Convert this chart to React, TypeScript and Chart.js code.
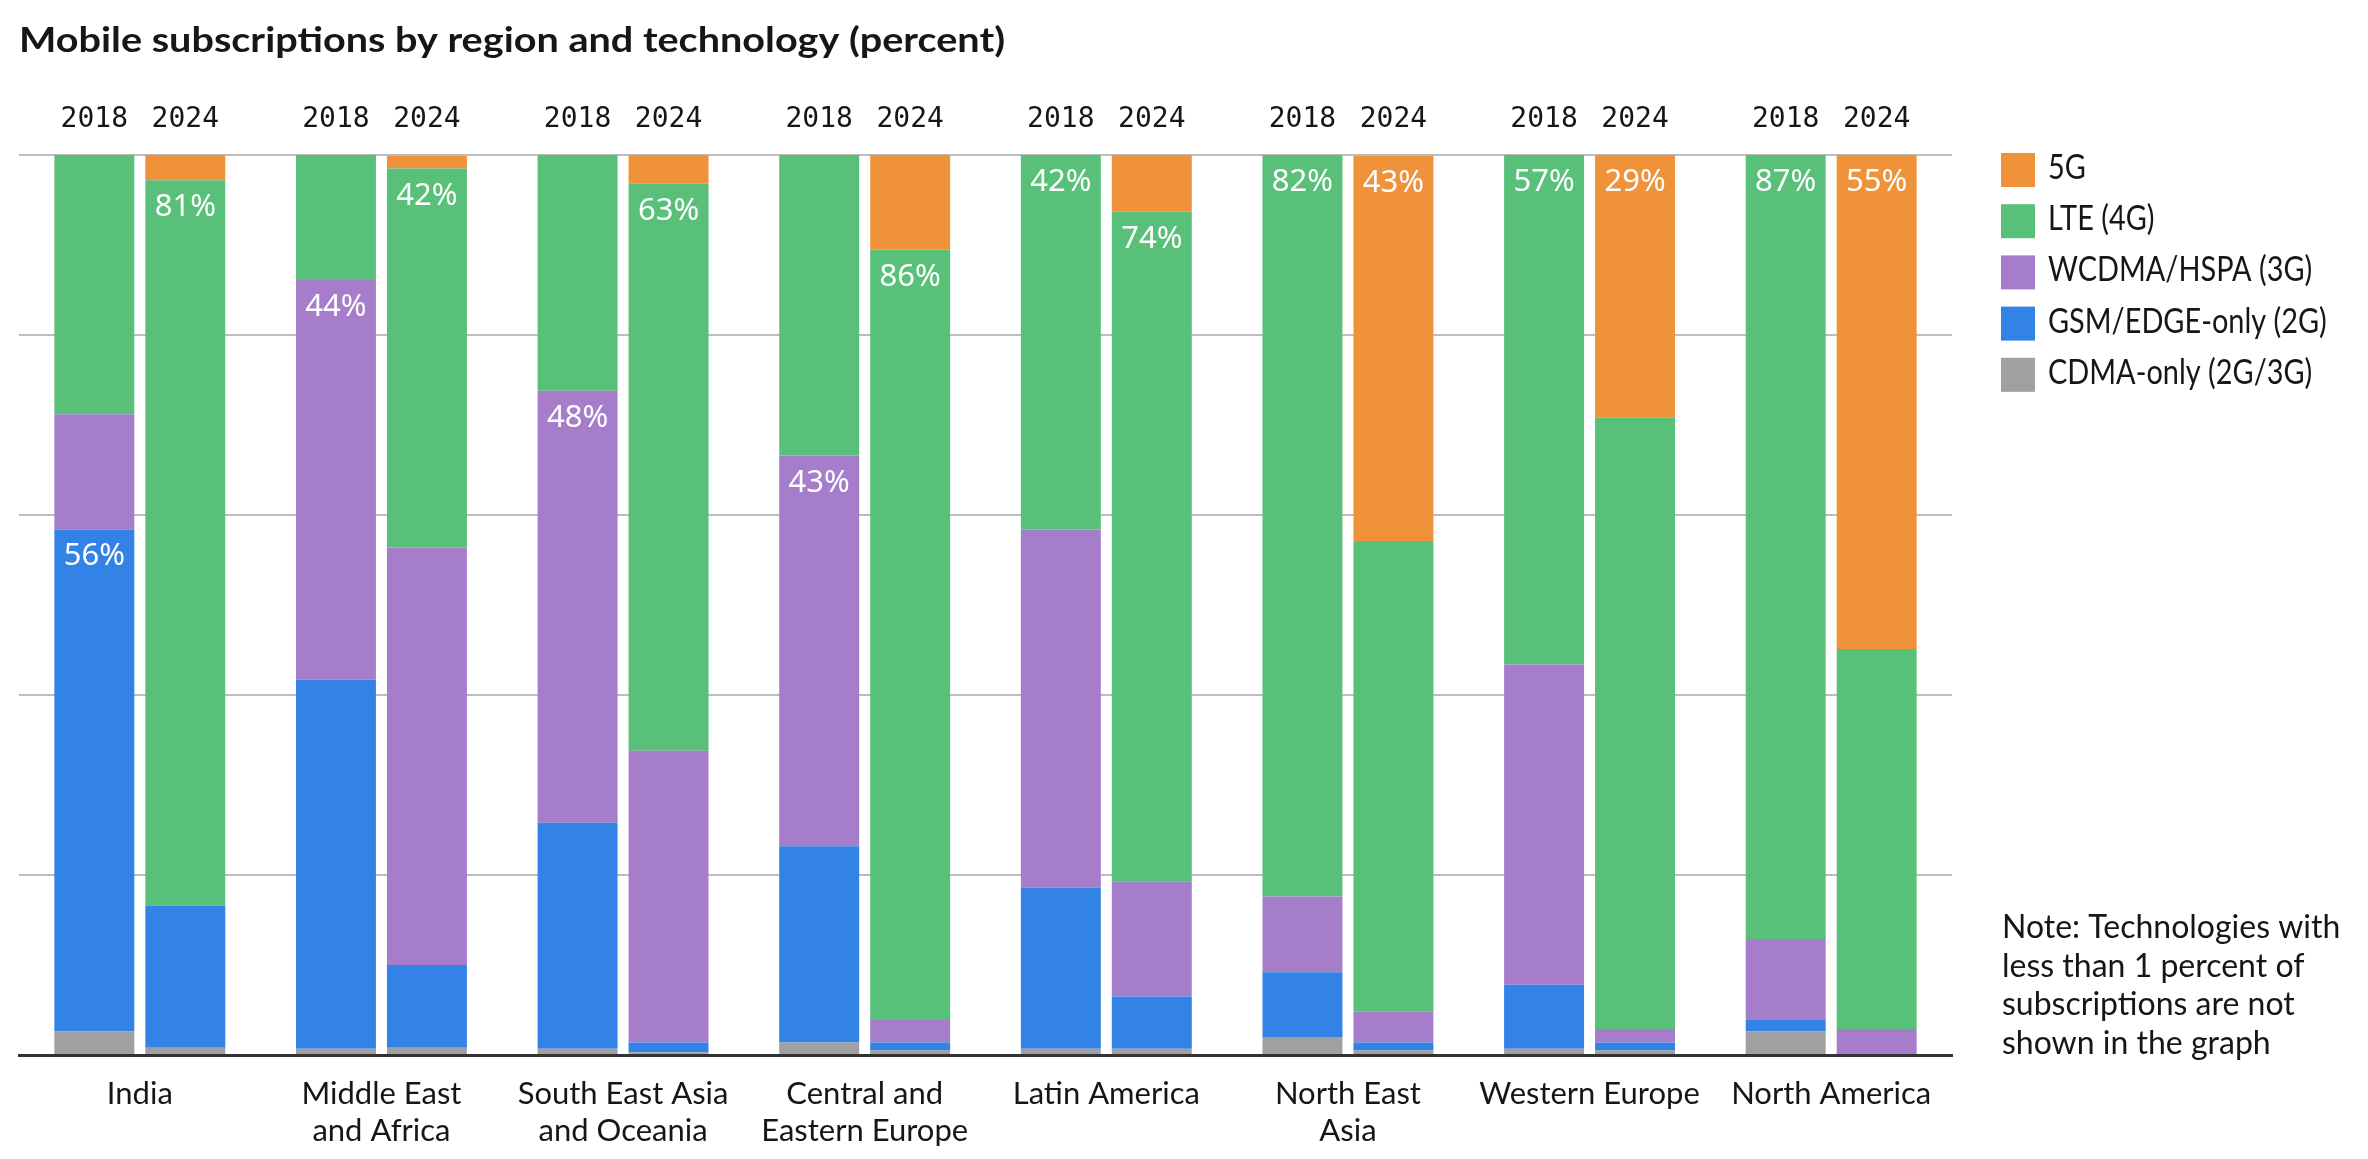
import React, { useEffect, useRef } from 'react';
import { Chart, registerables } from 'chart.js';

Chart.register(...registerables);

// ---------- data ----------
const regions: string[][] = [
  ['India'],
  ['Middle East', 'and Africa'],
  ['South East Asia', 'and Oceania'],
  ['Central and', 'Eastern Europe'],
  ['Latin America'],
  ['North East', 'Asia'],
  ['Western Europe'],
  ['North America'],
];
const years = ['2018', '2024'];
const technologies = ['5G', 'LTE (4G)', 'WCDMA/HSPA (3G)', 'GSM/EDGE-only (2G)', 'CDMA-only (2G/3G)'];
const techColors = ['#F0923A', '#59C07A', '#A67DCB', '#3382E6', '#A0A0A0'];

const g5_2018 = [0, 0, 0, 0, 0, 0, 0, 0];
const g5_2024 = [2.8, 1.4, 3.2, 10.5, 6.3, 42.8, 29.2, 54.9];
const lte_2018 = [28.8, 13.9, 26.3, 33.4, 41.6, 82.4, 56.6, 87.1];
const lte_2024 = [80.6, 42.1, 63.0, 85.6, 74.4, 52.3, 67.9, 42.2];
const wcdma_2018 = [12.8, 44.4, 48.0, 43.4, 39.8, 8.4, 35.6, 9.0];
const wcdma_2024 = [0, 46.4, 32.4, 2.5, 12.8, 3.4, 1.5, 2.9];
const gsm_2018 = [55.8, 41.0, 25.1, 21.8, 17.9, 7.2, 7.1, 1.3];
const gsm_2024 = [15.8, 9.2, 1.1, 0.9, 5.8, 0.9, 0.9, 0];
const cdma_2018 = [2.6, 0.7, 0.7, 1.4, 0.7, 2.0, 0.7, 2.6];
const cdma_2024 = [0.8, 0.8, 0.3, 0.5, 0.7, 0.5, 0.5, 0];

// index into technologies of the segment that carries the percent label
const labelTech2018 = [3, 2, 2, 2, 1, 1, 1, 1];
const labelTech2024 = [1, 1, 1, 1, 1, 0, 0, 0];

const yTicks = [0, 20, 40, 60, 80, 100];

const titleText = 'Mobile subscriptions by region and technology (percent)';
const noteLines = ['Note: Technologies with', 'less than 1 percent of', 'subscriptions are not', 'shown in the graph'];

const valuesByYear: number[][][] = [
  [g5_2018, lte_2018, wcdma_2018, gsm_2018, cdma_2018],
  [g5_2024, lte_2024, wcdma_2024, gsm_2024, cdma_2024],
];
const labelTechByYear = [labelTech2018, labelTech2024];

const TEXT = '#161616';

export default function App() {
  const ref = useRef<HTMLCanvasElement | null>(null);

  useEffect(() => {
    if (!ref.current) return;
    const datasets: any[] = [];
    years.forEach((yr, yi) => {
      // bottom to top: CDMA, GSM, WCDMA, LTE, 5G
      for (let t = technologies.length - 1; t >= 0; t--) {
        datasets.push({
          label: technologies[t],
          techIndex: t,
          yearIndex: yi,
          stack: yr,
          data: valuesByYear[yi][t],
          backgroundColor: techColors[t],
          borderWidth: 0,
          categoryPercentage: 0.753,
          barPercentage: 0.879,
        });
      }
    });

    const overlay = {
      id: 'overlay',
      afterDatasetsDraw(chart: any) {
        const ctx = chart.ctx;
        ctx.save();
        // percent labels
        ctx.fillStyle = '#ffffff';
        ctx.font = '31px "Noto Sans"';
        ctx.textAlign = 'center';
        ctx.textBaseline = 'alphabetic';
        chart.data.datasets.forEach((ds: any, di: number) => {
          const meta = chart.getDatasetMeta(di);
          const lt = labelTechByYear[ds.yearIndex];
          meta.data.forEach((el: any, ci: number) => {
            if (lt[ci] === ds.techIndex) {
              const v = ds.data[ci];
              ctx.fillText(Math.round(v) + '%', el.x, el.y + 36);
            }
          });
        });
        ctx.restore();
      },
      afterDraw(chart: any) {
        const ctx = chart.ctx;
        ctx.save();
        ctx.textBaseline = 'alphabetic';
        // title (stretched to the reference width)
        ctx.fillStyle = TEXT;
        ctx.textAlign = 'left';
        ctx.font = 'bold 35px Lato';
        const tw = ctx.measureText(titleText).width;
        ctx.save();
        ctx.translate(19, 52);
        ctx.scale(986 / tw, 1);
        ctx.fillText(titleText, 0, 0);
        ctx.restore();
        // years above bars
        ctx.font = '28px "DejaVu Sans Mono"';
        ctx.textAlign = 'center';
        years.forEach((yr, yi) => {
          const di = chart.data.datasets.findIndex((d: any) => d.yearIndex === yi);
          const meta = chart.getDatasetMeta(di);
          meta.data.forEach((el: any) => {
            ctx.fillText(yr, el.x, 127);
          });
        });
        // legend
        ctx.textAlign = 'left';
        ctx.font = '34px Lato';
        technologies.forEach((t, i) => {
          const top = 153 + i * 51.2;
          ctx.fillStyle = techColors[i];
          ctx.fillRect(2001, top, 34, 34);
          ctx.fillStyle = TEXT;
          ctx.save();
          ctx.translate(2048, top + 26);
          ctx.scale(0.85, 1);
          ctx.fillText(t, 0, 0);
          ctx.restore();
        });
        // note
        ctx.font = '32px Lato';
        noteLines.forEach((l, i) => {
          ctx.fillText(l, 2002, 938 + i * 38.7);
        });
        ctx.restore();
      },
    };

    const chart = new Chart(ref.current, {
      type: 'bar',
      data: { labels: regions as any, datasets },
      options: {
        animation: false,
        responsive: true,
        maintainAspectRatio: false,
        layout: { padding: { left: 19, right: 416, top: 155, bottom: 0 } },
        plugins: { legend: { display: false }, tooltip: { enabled: false }, title: { display: false } },
        scales: {
          x: {
            stacked: true,
            grid: { display: false, drawTicks: false },
            border: { display: true, color: '#333333', width: 3 },
            ticks: {
              color: TEXT,
              font: { family: 'Lato', size: 31 },
              padding: 20,
              maxRotation: 0,
              autoSkip: false,
            },
            afterFit: (s: any) => { s.height = 104; },
          },
          y: {
            stacked: true,
            min: yTicks[0],
            max: yTicks[yTicks.length - 1],
            afterBuildTicks: (s: any) => { s.ticks = yTicks.map((v) => ({ value: v })); },
            grid: { color: '#bdbdbd', lineWidth: 2, drawTicks: false },
            border: { display: false },
            ticks: { display: false },
            afterFit: (s: any) => { s.width = 0; },
          },
        },
      },
      plugins: [overlay],
    });
    return () => chart.destroy();
  }, []);

  return (
    <div style={{ position: 'absolute', left: 0, top: 0, width: 2368, height: 1159, background: '#fff' }}>
      <canvas ref={ref} />
    </div>
  );
}
